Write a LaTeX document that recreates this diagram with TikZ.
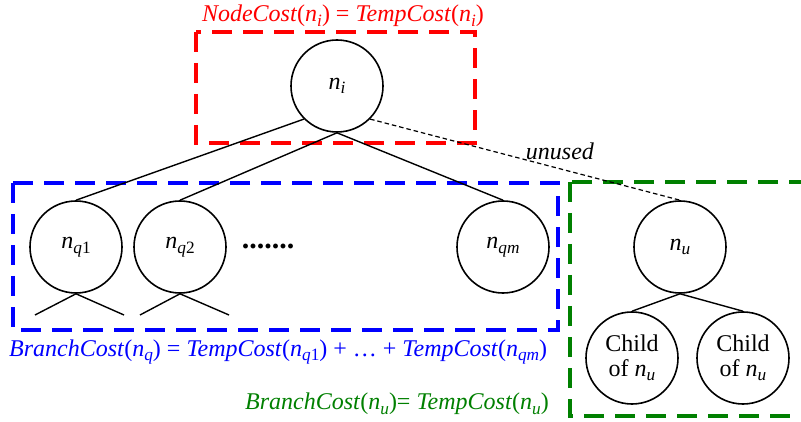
\documentclass[tikz,border=0pt]{standalone}
\usepackage{fontspec}
\setmainfont{Liberation Serif}
\definecolor{boxgreen}{RGB}{0,128,0}
% italic n with a lowered subscript
\newcommand\nsub[1]{\textit{n}\raisebox{-0.4ex}{\scalebox{0.72}{#1}}}
\tikzset{
  tnode/.style={circle, draw, line width=1.6pt, minimum size=92pt, inner sep=0pt,
                align=center, font=\fontsize{24}{25}\selectfont},
  edge/.style={line width=1.4pt},
  groupbox/.style={line width=4.5pt, dash pattern=on 20pt off 11pt},
  caption/.style={font=\fontsize{24}{26}\selectfont, inner sep=0pt}
}
\begin{document}
\begin{tikzpicture}[x=1pt,y=-1pt]
\clip (0,0) rectangle (801,422);
\fill[white] (0,0) rectangle (801,422);

% group frames
\draw[groupbox, red] (196,32) rectangle (475,143);
\draw[groupbox, blue] (13,183) rectangle (558,330);
\draw[groupbox, boxgreen] (570,182) rectangle (812,416);

% tree nodes
\node[tnode] (ni)  at (337,86)  {\nsub{\textit{i}}};
\node[tnode] (nq1) at (76,247)  {\nsub{\textit{q}1}};
\node[tnode] (nq2) at (180,247) {\nsub{\textit{q}2}};
\node[tnode] (nqm) at (503,247) {\nsub{\textit{qm}}};
\node[tnode] (nu)  at (680,247) {\nsub{\textit{u}}};
\node[tnode] (c1)  at (632,358) {Child\\of \nsub{\textit{u}}};
\node[tnode] (c2)  at (743,358) {Child\\of \nsub{\textit{u}}};
\node[font=\fontsize{30}{30}\selectfont\bfseries, inner sep=0pt] (dots) at (268,246) {.......};

% loose sub-branches below the first two children
\coordinate (l1) at (35,315);
\coordinate (r1) at (124,315);
\coordinate (l2) at (140,315);
\coordinate (r2) at (229,315);

% connectors
\draw[edge] (ni.225) -- (nq1.north);
\draw[edge] (ni.south) -- (nq2.north);
\draw[edge] (ni.south) -- (nqm.north);
\draw[line width=1.2pt, dash pattern=on 4.5pt off 3pt] (ni.-45) -- (nu.north);
\draw[edge] (nq1.south) -- (l1);
\draw[edge] (nq1.south) -- (r1);
\draw[edge] (nq2.south) -- (l2);
\draw[edge] (nq2.south) -- (r2);
\draw[edge] (nu.south) -- (c1.north);
\draw[edge] (nu.south) -- (c2.north);

% cost labels
\node[caption, text=red] (nodecost) at (343,16)
  {\textit{NodeCost}(\nsub{\textit{i}}) = \textit{TempCost}(\nsub{\textit{i}})};
\node[caption] (unused) at (560,151) {\textit{unused}};
\node[caption, text=blue, anchor=west] (branchq) at (9,352)
  {\textit{BranchCost}(\nsub{\textit{q}}) = \textit{TempCost}(\nsub{\textit{q}1}) + \dots{} + \textit{TempCost}(\nsub{\textit{qm}})};
\node[caption, text=boxgreen] (branchu) at (397,404)
  {\textit{BranchCost}(\nsub{\textit{u}})= \textit{TempCost}(\nsub{\textit{u}})};
\end{tikzpicture}
\end{document}
